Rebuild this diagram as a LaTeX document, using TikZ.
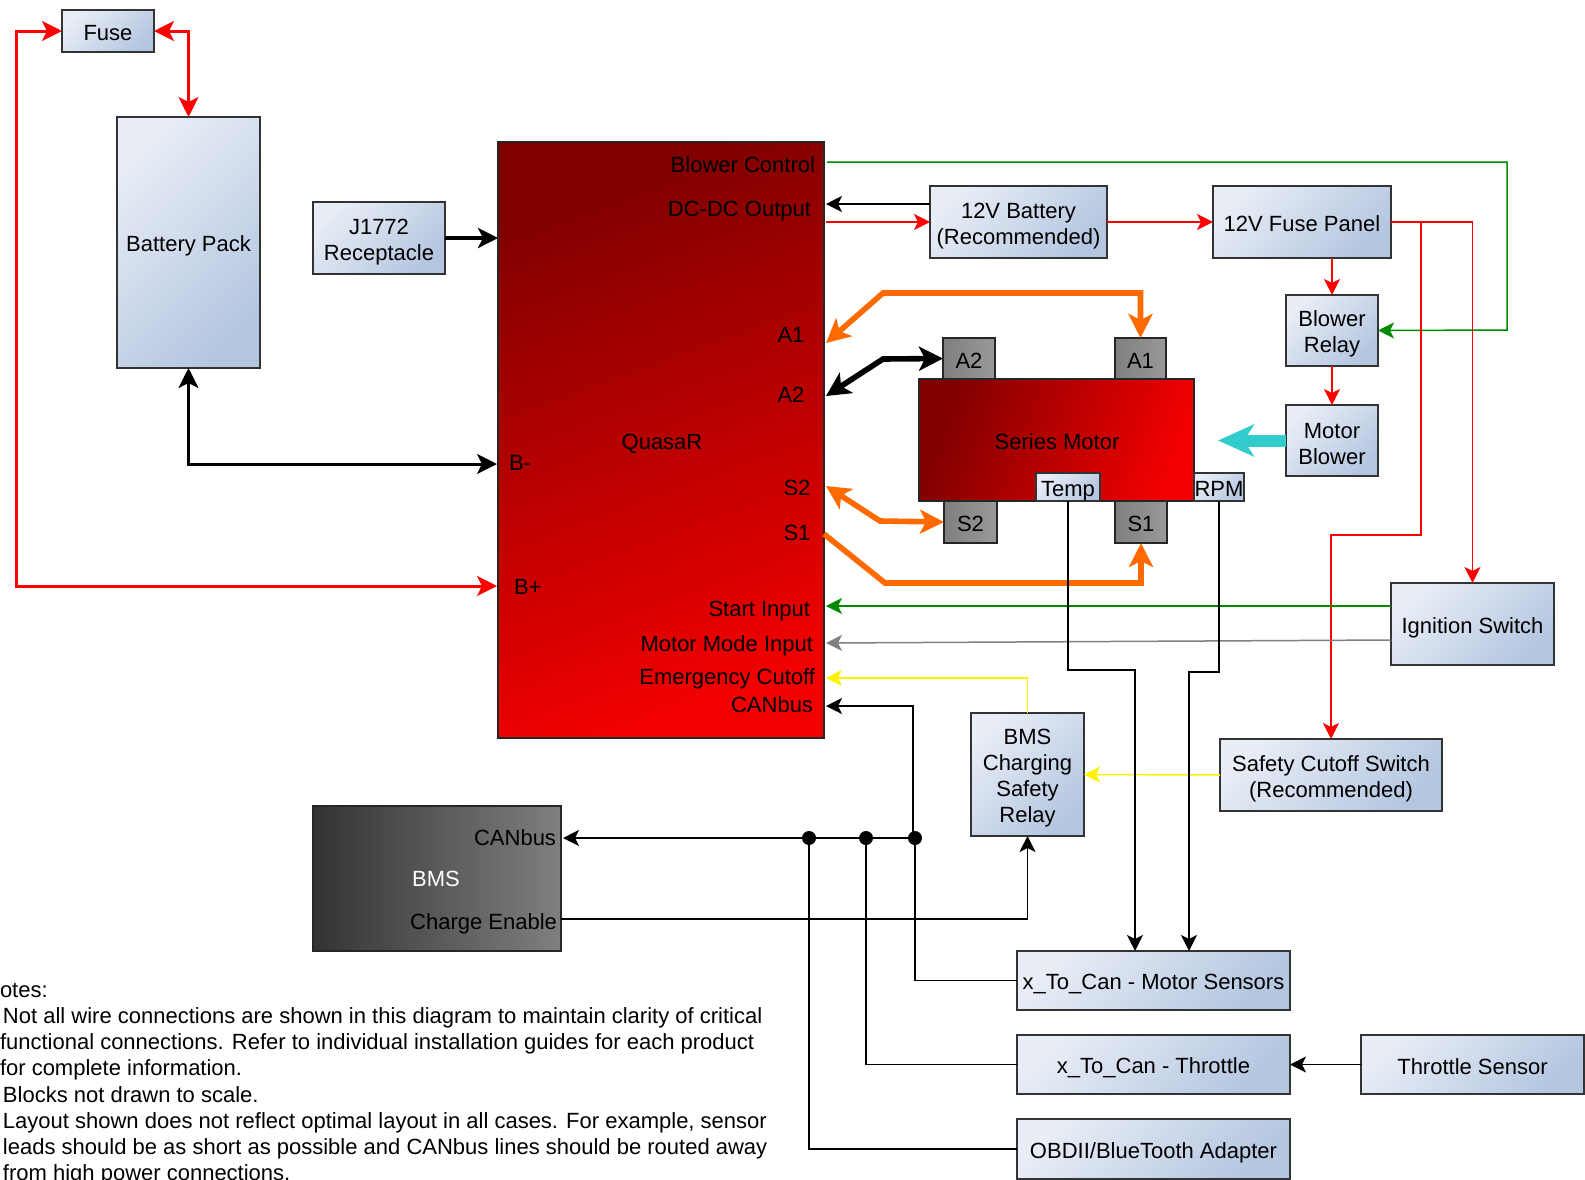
\documentclass[tikz,border=0pt]{standalone}
\usepackage{fontspec}
\setmainfont{Liberation Sans}
\usetikzlibrary{arrows.meta}
\definecolor{bluehi}{HTML}{E8EDF6}
\definecolor{bluelo}{HTML}{B4C6E0}
\definecolor{wireorange}{HTML}{FF6A00}
\definecolor{wirecyan}{HTML}{33CCCC}
\definecolor{wiregreen}{HTML}{008A00}
\newcommand{\toppad}{\rule{0pt}{11.5pt}}
\tikzset{
  >={Stealth[length=8pt,width=8pt,inset=2pt]},
  every node/.style={font=\fontsize{11}{13}\selectfont,inner sep=0pt,outer sep=0pt},
  boxtext/.style={execute at begin node={\rule{0pt}{11.5pt}},execute at end node={\rule[-2pt]{0pt}{2pt}}},
  bluebox/.style={draw=black!80,thick,top color=bluehi,bottom color=bluelo,shading angle=45,boxtext},
  bluestack/.style={draw=black!80,thick,top color=bluehi,bottom color=bluelo,shading angle=45,align=center},
  redbox/.style={draw=black!85,thick,top color=red!50!black,bottom color=red!95!black,shading angle=20},
  greybox/.style={draw=black!85,thick,top color=black!50,bottom color=black!40,shading angle=90,boxtext},
  junction/.style={circle,fill=black,minimum size=7pt},
  wire/.style={line width=0.75pt},
  power/.style={line width=1.5pt,>={Stealth[length=10pt,width=10pt,inset=2.5pt]}},
  bigpower/.style={line width=2.8pt,>={Stealth[length=12pt,width=12pt,inset=3pt]}},
  airflow/.style={line width=6pt,>={Stealth[length=18pt,width=16pt,inset=5pt]}}
}
\begin{document}
\begin{tikzpicture}[x=0.5pt,y=-0.5pt]
  \useasboundingbox (0,0) rectangle (1585,1179);

  \node[redbox,minimum width=163pt,minimum height=298pt] (quasar) at (661,440) {};
  \node (quasarlabel) at (662,444) {QuasaR};
  \node[bluebox,minimum width=46pt,minimum height=21pt] (fuse) at (108,31) {Fuse};
  \node[bluebox,minimum width=71.5pt,minimum height=125.5pt] (battery) at (188.5,242.5) {Battery Pack};
  \node[bluestack,minimum width=66pt,minimum height=36pt] (j1772) at (379,238) {\toppad J1772\\Receptacle};
  \node[bluestack,minimum width=88.5pt,minimum height=36pt] (batt12) at (1018.5,222) {\toppad 12V Battery\\(Recommended)};
  \node[bluebox,minimum width=89pt,minimum height=36pt] (panel) at (1302,222) {12V Fuse Panel};
  \node[bluestack,minimum width=46pt,minimum height=35.5pt] (relay) at (1332,330.5) {\toppad Blower\\Relay};
  \node[bluestack,minimum width=46pt,minimum height=35.5pt] (mblower) at (1332,440.5) {\toppad Motor\\Blower};
  \node[greybox,minimum width=26pt,minimum height=20.5pt] (a2) at (969,358.5) {A2};
  \node[greybox,minimum width=25.5pt,minimum height=20.5pt] (a1) at (1140.5,358.5) {A1};
  \node[greybox,minimum width=26.5pt,minimum height=21pt] (s2) at (970.5,522) {S2};
  \node[greybox,minimum width=26pt,minimum height=21pt] (s1) at (1141,522) {S1};
  \node[redbox,shading angle=70,minimum width=137.5pt,minimum height=61pt] (motor) at (1056.5,440) {};
  \node (motorlabel) at (1057,442) {Series Motor};
  \node[bluebox,minimum width=32pt,minimum height=14pt] (temp) at (1068,487) {Temp};
  \node[bluebox,minimum width=25pt,minimum height=14pt] (rpm) at (1219,487) {RPM};
  \node[bluebox,minimum width=81.5pt,minimum height=41pt] (ignition) at (1472.5,624) {Ignition Switch};
  \node[bluestack,minimum width=111pt,minimum height=36pt] (safety) at (1331,775) {\toppad Safety Cutoff  Switch\\(Recommended)};
  \node[bluestack,minimum width=56.5pt,minimum height=61.5pt] (bmscharge) at (1027.5,774.5) {\toppad BMS\\Charging\\Safety\\Relay};
  \node[draw=black!85,thick,left color=black!80,right color=black!50,minimum width=124pt,minimum height=72.5pt] (bms) at (437,878.5) {};
  \node[text=white] (bmslabel) at (436,879) {BMS};
  \node[bluebox,minimum width=136.5pt,minimum height=29.5pt] (xmotor) at (1153.5,980.5) {x\_To\_Can - Motor Sensors};
  \node[bluebox,minimum width=136.5pt,minimum height=29.5pt] (xthrottle) at (1153.5,1064.5) {x\_To\_Can - Throttle};
  \node[bluebox,minimum width=136.5pt,minimum height=30pt] (obd) at (1153.5,1149) {OBDII/BlueTooth Adapter};
  \node[bluebox,minimum width=111.5pt,minimum height=29.5pt] (tsensor) at (1472.5,1064.5) {Throttle Sensor};

  \node[anchor=east] (lblower) at (815,165) {Blower Control};
  \node[anchor=east] (ldcdc) at (811,211) {DC-DC Output};
  \node (la1) at (791,335) {A1};
  \node (la2) at (791,395) {A2};
  \node (lbminus) at (520,463) {B-};
  \node (lbplus) at (528,587) {B+};
  \node (ls2) at (797,488) {S2};
  \node (ls1) at (797,533) {S1};
  \node[anchor=east] (lstart) at (810,611) {Start Input};
  \node[anchor=east] (lmode) at (813,646) {Motor Mode Input};
  \node[anchor=east] (lemerg) at (815,679) {Emergency Cutoff};
  \node[anchor=east] (lcan) at (813,705) {CANbus};
  \node[anchor=east] (lbmscan) at (556,838) {CANbus};
  \node[anchor=east] (lenable) at (557,924) {Charge Enable};

  \node[junction] (jcan) at (915,838) {};
  \node[junction] (jthrottle) at (866,838) {};
  \node[junction] (jobd) at (809,838) {};

  \coordinate (qblower) at (827,162);
  \coordinate (greenturn) at (1507,330);
  \coordinate (qdcin) at (826,204);
  \coordinate (qdcout) at (826,222);
  \coordinate (qa1) at (826,343);
  \coordinate (qa2) at (826,396);
  \coordinate (qs2) at (826,486);
  \coordinate (qs1) at (824,534);
  \coordinate (qbminus) at (497,464);
  \coordinate (qbplus) at (497,586);
  \coordinate (qstart) at (826,606);
  \coordinate (qmode) at (826,643);
  \coordinate (qemerg) at (826,678);
  \coordinate (qcan) at (826,706);
  \coordinate (bmscan) at (563,838);
  \coordinate (bmsen) at (561,919);
  \coordinate (redturn) at (16,586);
  \coordinate (a1bend) at (883,293);
  \coordinate (a2bend) at (883,359);
  \coordinate (s2bend) at (880,521);
  \coordinate (s1bend) at (885,583);
  \coordinate (safetyturn) at (1421,535);
  \coordinate (safetydrop) at (1331,535);
  \coordinate (modeout) at (1391,640);
  \coordinate (canturn) at (913,838);
  \coordinate (tempturn) at (1135,670);
  \coordinate (tempin) at (1135,951);
  \coordinate (rpmturn) at (1189,672);
  \coordinate (rpmin) at (1189,951);
  \coordinate (airtip) at (1218,440.5);

  \draw[->,wirecyan,airflow] (mblower.west) -- (airtip);

  \draw[<->,red,power] (fuse.west) -| (redturn) -- (qbplus);
  \draw[<->,red,power] (fuse.east) -| (battery.north);
  \draw[<->,black,power] (battery.south) |- (qbminus);
  \draw[->,black,power,line width=2pt] (j1772.east) -- (j1772.east -| quasar.west);

  \draw[<->,wireorange,bigpower] (qa1) -- (a1bend) -| (a1.north);
  \draw[<->,black,bigpower] (qa2) -- (a2bend) -- (a2.west);
  \draw[<->,wireorange,bigpower] (qs2) -- (s2bend) -- (s2.west);
  \draw[->,wireorange,bigpower] (qs1) -- (s1bend) -| (s1.south);

  \draw[->,wiregreen,wire] (qblower) -| (greenturn) -- (relay.east);
  \draw[->,black,wire] (batt12.west |- qdcin) -- (qdcin);
  \draw[->,red,wire] (qdcout) -- (batt12.west);
  \draw[->,red,wire] (batt12.east) -- (panel.west);
  \draw[->,red,wire] (relay.north |- panel.south) -- (relay.north);
  \draw[->,red,wire] (relay.south) -- (mblower.north);
  \draw[->,red,wire] (panel.east) -| (ignition.north);
  \draw[->,red,wire] (panel.east) -| (safetyturn) -- (safetydrop) -- (safety.north);
  \draw[->,wiregreen,wire] (ignition.west |- qstart) -- (qstart);
  \draw[->,black!50,wire] (modeout) -- (qmode);
  \draw[->,yellow,wire] (bmscharge.north) |- (qemerg);
  \draw[->,yellow,wire] (safety.west) -- (bmscharge.east);
  \draw[black,wire] (xmotor.west) -| (jcan);
  \draw[->,black,wire] (canturn) |- (qcan);
  \draw[->,black,wire] (jcan) -- (bmscan);
  \draw[black,wire] (xthrottle.west) -| (jthrottle);
  \draw[black,wire] (obd.west) -| (jobd);
  \draw[->,black,wire] (bmsen) -| (bmscharge.south);
  \draw[->,black,wire] (temp.south) |- (tempturn) -- (tempin);
  \draw[->,black,wire] (rpm.south) |- (rpmturn) -- (rpmin);
  \draw[->,black,wire] (tsensor.west) -- (xthrottle.east);

  \node[anchor=north west,align=left,font=\fontsize{11}{13.1}\selectfont] (notes) at (0,983) {%
    otes:\\
    \hspace*{1.5pt}Not all wire connections are shown in this diagram to maintain clarity of critical\\
    functional connections. Refer to individual installation guides for each product\\
    for complete information.\\
    \hspace*{1.5pt}Blocks not drawn to scale.\\
    \hspace*{1.5pt}Layout shown does not reflect optimal layout in all cases. For example, sensor\\
    \hspace*{1.5pt}leads should be as short as possible and CANbus lines should be routed away\\
    \hspace*{1.5pt}from high power connections.};
\end{tikzpicture}
\end{document}
